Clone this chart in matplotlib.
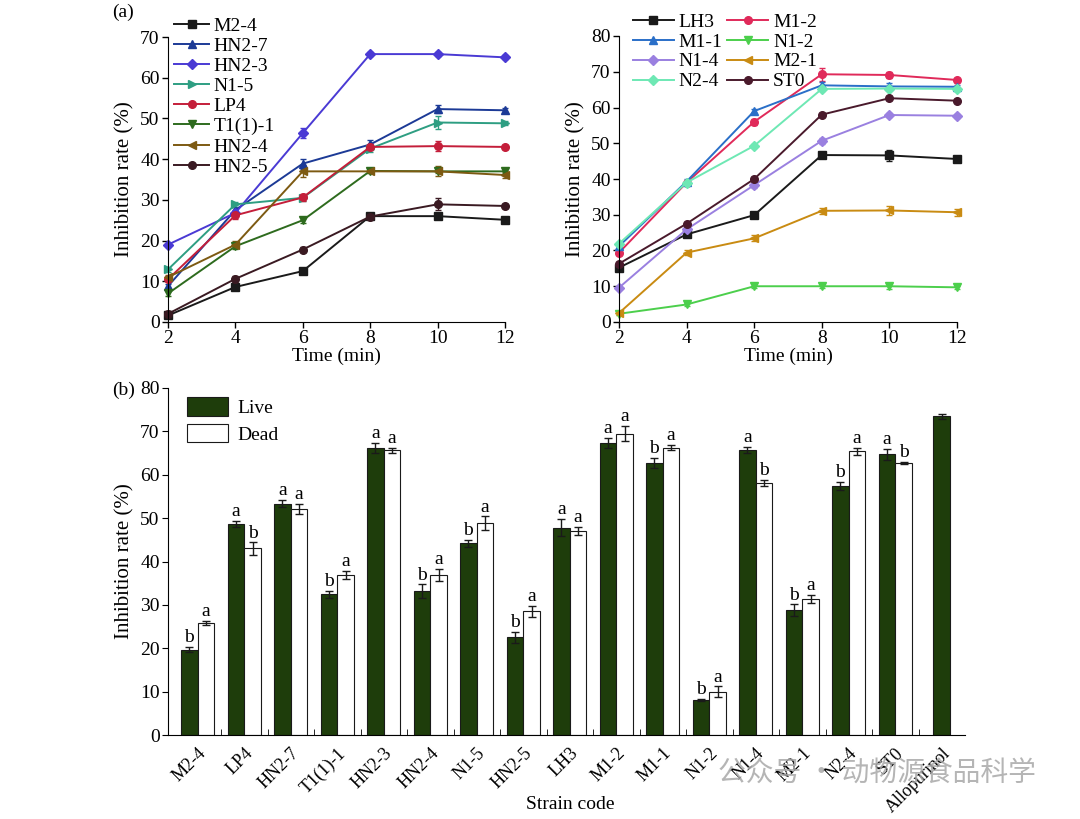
import matplotlib
matplotlib.use('Agg')
import matplotlib.pyplot as plt
import matplotlib.transforms as mtrans
import numpy as np

plt.rcParams['font.family'] = ['Liberation Serif', 'DejaVu Serif']
plt.rcParams['font.size'] = 14

# ---- data: time course, left panel
time = [2, 4, 6, 8, 10, 12]
names_l = ['M2-4', 'HN2-7', 'HN2-3', 'N1-5', 'LP4', 'T1(1)-1', 'HN2-4', 'HN2-5']
vals_l = [
    [1.6, 8.6, 12.5, 26.0, 26.0, 25.1],
    [8.8, 27.5, 38.9, 43.6, 52.3, 52.0],
    [19.0, 26.8, 46.4, 65.8, 65.8, 65.0],
    [12.9, 28.9, 30.5, 42.6, 49.0, 48.8],
    [10.5, 26.2, 30.6, 43.0, 43.2, 43.0],
    [7.0, 18.6, 25.0, 37.1, 37.0, 37.0],
    [11.0, 19.0, 37.0, 37.0, 37.0, 36.1],
    [2.0, 10.6, 17.8, 25.9, 28.9, 28.5],
]
err_l = [
    [0.5, 0.8, 0.5, 0.6, 0.6, 0.4],
    [0.5, 0.8, 1.2, 1.0, 1.0, 0.5],
    [0.5, 0.8, 1.2, 0.5, 0.5, 0.5],
    [0.5, 0.6, 0.8, 0.8, 1.5, 0.5],
    [0.5, 0.8, 0.8, 0.8, 1.2, 0.5],
    [0.5, 0.6, 0.6, 0.5, 0.5, 0.5],
    [0.5, 0.8, 1.5, 0.5, 1.2, 0.8],
    [0.8, 0.8, 0.6, 0.6, 1.5, 0.5],
]
colors_l = ['#1a1a1a', '#1c3a96', '#4a3ad4', '#2e9e82', '#c41e3a', '#2e6b1e', '#7d5a12', '#3a1a22']
markers_l = ['s', '^', 'D', '>', 'o', 'v', '<', 'o']

# ---- data: time course, right panel
names_r = ['LH3', 'M1-2', 'M1-1', 'N1-2', 'N1-4', 'M2-1', 'N2-4', 'ST0']
vals_r = [
    [15.2, 24.5, 29.9, 46.7, 46.6, 45.6],
    [19.4, 39.0, 56.0, 69.3, 69.1, 67.7],
    [21.2, 39.3, 59.0, 66.2, 65.9, 65.8],
    [2.3, 4.9, 10.0, 10.0, 10.0, 9.7],
    [9.6, 25.9, 38.3, 50.7, 57.9, 57.7],
    [2.5, 19.4, 23.4, 31.1, 31.2, 30.7],
    [21.9, 39.0, 49.3, 65.2, 65.3, 65.2],
    [16.3, 27.5, 40.0, 58.0, 62.6, 61.9],
]
err_r = [
    [0.6, 0.6, 0.6, 0.6, 1.5, 0.8],
    [0.6, 0.6, 0.8, 1.8, 0.8, 0.6],
    [0.6, 0.6, 0.6, 1.0, 1.0, 0.6],
    [0.4, 0.4, 0.5, 0.5, 0.8, 0.5],
    [0.5, 0.8, 0.8, 0.8, 0.6, 0.5],
    [0.5, 0.6, 0.8, 0.8, 1.2, 1.0],
    [0.6, 0.6, 0.6, 0.6, 0.6, 0.6],
    [0.5, 0.6, 0.6, 0.6, 0.5, 0.5],
]
colors_r = ['#1a1a1a', '#e02a5a', '#2a6fc8', '#4ccf4c', '#9a80e0', '#c98b12', '#6ee8b4', '#4a1a2c']
markers_r = ['s', 'o', '^', 'v', 'D', '<', 'D', 'o']

# ---- data: live vs dead bars
strains = ['M2-4', 'LP4', 'HN2-7', 'T1(1)-1', 'HN2-3', 'HN2-4', 'N1-5', 'HN2-5', 'LH3',
           'M1-2', 'M1-1', 'N1-2', 'N1-4', 'M2-1', 'N2-4', 'ST0', 'Allopurinol']
live = [19.7, 48.6, 53.3, 32.4, 66.1, 33.2, 44.2, 22.5, 47.8,
        67.3, 62.7, 8.1, 65.7, 28.8, 57.4, 64.7, 73.5]
live_err = [0.6, 0.7, 0.8, 0.8, 1.2, 1.5, 0.8, 1.2, 2.0, 1.2, 1.2, 0.3, 0.8, 1.3, 1.0, 1.3, 0.6]
dead = [25.8, 43.0, 52.1, 36.9, 65.6, 36.9, 48.8, 28.5, 47.0,
        69.5, 66.2, 10.0, 58.1, 31.3, 65.4, 62.7]
dead_err = [0.5, 1.4, 1.2, 0.9, 0.5, 1.4, 1.6, 1.2, 1.0, 1.8, 0.6, 1.2, 0.8, 0.9, 0.8, 0.3]
live_letter = ['b', 'a', 'a', 'b', 'a', 'b', 'b', 'b', 'a', 'a', 'b', 'b', 'a', 'b', 'b', 'a', '']
dead_letter = ['a', 'b', 'a', 'a', 'a', 'a', 'a', 'a', 'a', 'a', 'a', 'a', 'b', 'a', 'a', 'b']

fig = plt.figure(figsize=(10.8, 8.19), dpi=100)
W, H = 1080, 819


def box(x0, y0, x1, y1):
    return [x0 / W, 1 - y1 / H, (x1 - x0) / W, (y1 - y0) / H]


def style(ax):
    for s in ['top', 'right']:
        ax.spines[s].set_visible(False)
    ax.tick_params(direction='out', length=4, width=1, labelsize=14, pad=2)


def lines(ax, vals, errs, cols, marks):
    hs = []
    for v, e, c, m in zip(vals, errs, cols, marks):
        cont = ax.errorbar(time, v, yerr=e, color=c, marker=m, ms=5.5, lw=1.4,
                           capsize=2.5, elinewidth=1, clip_on=False)
        hs.append(cont[0])
    return hs


ax1 = fig.add_axes(box(168, 37, 505, 322))
h1 = lines(ax1, vals_l, err_l, colors_l, markers_l)
ax1.set_xlim(2, 12)
ax1.set_ylim(0, 70)
ax1.set_xticks(time)
ax1.set_yticks(range(0, 71, 10))
ax1.set_xlabel('Time (min)', fontsize=14, labelpad=0)
ax1.set_ylabel('Inhibition rate (%)', fontsize=15, labelpad=4)
style(ax1)
fig.legend(h1, names_l, loc='upper left', bbox_to_anchor=(174 / W, 1 - 17 / H),
           frameon=False, fontsize=14, handlelength=1.8, handletextpad=0.25,
           labelspacing=0.13, borderaxespad=0, borderpad=0)

ax2 = fig.add_axes(box(619, 36, 957, 322))
h2 = lines(ax2, vals_r, err_r, colors_r, markers_r)
ax2.set_xlim(2, 12)
ax2.set_ylim(0, 80)
ax2.set_xticks(time)
ax2.set_yticks(range(0, 81, 10))
ax2.set_xlabel('Time (min)', fontsize=14, labelpad=0)
ax2.set_ylabel('Inhibition rate (%)', fontsize=15, labelpad=4)
style(ax2)
# legend reads row by row: LH3 M1-2 / M1-1 N1-2 / ...
order = [0, 2, 4, 6, 1, 3, 5, 7]
fig.legend([h2[i] for i in order], [names_r[i] for i in order], loc='upper left',
           bbox_to_anchor=(633 / W, 1 - 13 / H), ncol=2, frameon=False, fontsize=14,
           handlelength=2.1, handletextpad=0.25, labelspacing=0.12, columnspacing=0.25,
           borderaxespad=0, borderpad=0)

ax3 = fig.add_axes(box(168, 388, 965, 735))
x = np.arange(len(strains))
bw = 0.36
nd = len(dead)
xl = x.astype(float).copy()
xl[:nd] = x[:nd] - bw / 2
xd = x[:nd] + bw / 2
ax3.bar(xl, live, bw, color='#1e3d0b', edgecolor='#1a1a1a', lw=0.8, label='Live',
        yerr=live_err, capsize=3, error_kw=dict(elinewidth=1, ecolor='#1a1a1a'))
ax3.bar(xd, dead, bw, color='white', edgecolor='#1a1a1a', lw=0.8, label='Dead',
        yerr=dead_err, capsize=3, error_kw=dict(elinewidth=1, ecolor='#1a1a1a'))
for xi, v, e, t in zip(xl, live, live_err, live_letter):
    ax3.text(xi, v + e + 0.2, t, ha='center', va='bottom', fontsize=14)
for xi, v, e, t in zip(xd, dead, dead_err, dead_letter):
    ax3.text(xi, v + e + 0.2, t, ha='center', va='bottom', fontsize=14)
ax3.set_xlim(-0.64, 16.5)
ax3.set_ylim(0, 80)
ax3.set_yticks(range(0, 81, 10))
ax3.set_xticks(x)
ax3.set_xticklabels(strains, rotation=45, ha='right', va='top', rotation_mode='anchor',
                    fontsize=13)
shift = mtrans.ScaledTranslation(5 / 100, 0, fig.dpi_scale_trans)
for lab in ax3.get_xticklabels():
    lab.set_transform(lab.get_transform() + shift)
ax3.set_xticks(x[:-1] + 0.5, minor=True)
ax3.tick_params(axis='x', which='major', length=0, pad=7)
ax3.tick_params(axis='x', which='minor', direction='in', length=4)
ax3.set_xlabel('Strain code', fontsize=14)
ax3.xaxis.set_label_coords(0.505, -0.175)
ax3.set_ylabel('Inhibition rate (%)', fontsize=15, labelpad=4)
for s in ['top', 'right']:
    ax3.spines[s].set_visible(False)
ax3.tick_params(axis='y', direction='out', length=4, labelsize=14, pad=2)
ax3.legend(loc='upper left', bbox_to_anchor=(187 / W, 1 - 397 / H),
           bbox_transform=fig.transFigure, frameon=False, fontsize=14,
           handlelength=2.1, handleheight=1.1, handletextpad=0.5, labelspacing=0.35,
           borderaxespad=0, borderpad=0)

fig.text(112 / W, 1 - 12 / H, '(a)', fontsize=14, va='center')
fig.text(112 / W, 1 - 390 / H, '(b)', fontsize=14, va='center')
fig.text(718 / W, 1 - 774 / H, '公众号 · 动物源食品科学', fontsize=20, color='#a8a8a8',
         alpha=0.85, va='center', family=['Noto Sans CJK SC', 'DejaVu Sans'])

fig.savefig('out.png', dpi=100)
